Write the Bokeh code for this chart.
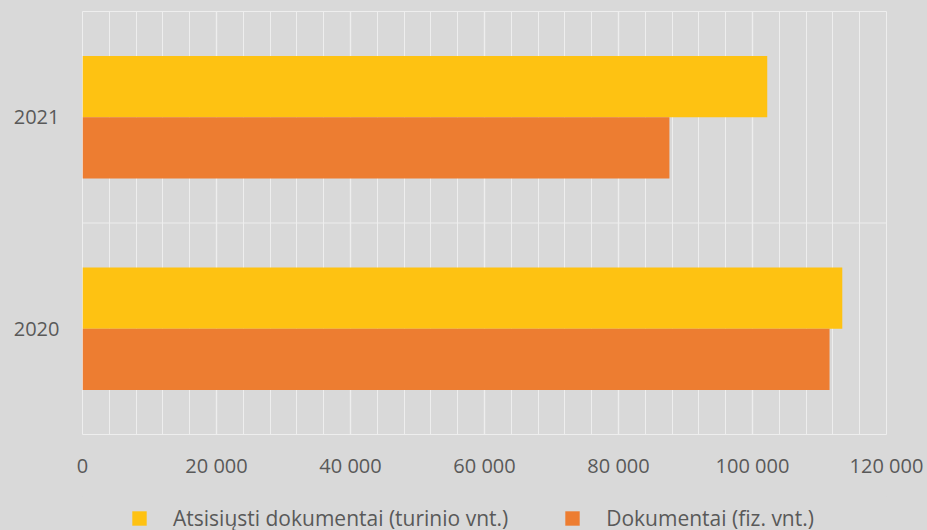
from bokeh.plotting import figure
from bokeh.models import (Range1d, FactorRange, SingleIntervalTicker, Span, Legend,
                          LegendItem, ColumnDataSource)
from bokeh.layouts import column
from bokeh.transform import dodge
from bokeh.embed import file_html
from bokeh.resources import INLINE

years = ["2020", "2021"]
downloaded = [113400, 102200]
documents = [111500, 87600]
x_ticks = [0, 20000, 40000, 60000, 80000, 100000, 120000]
x_tick_labels = ["0", "20 000", "40 000", "60 000", "80 000", "100 000", "120 000"]
series_names = ["Atsisiųsti dokumentai (turinio vnt.)", "Dokumentai (fiz. vnt.)"]
colors = ["#FEC212", "#ED7D31"]

BG = "#D9D9D9"
GRID = "#EEEEEE"
TXT = "#595959"
FONT = "Open Sans"

src = ColumnDataSource(dict(year=years, downloaded=downloaded, documents=documents))

p = figure(width=927, height=496, output_backend="svg", toolbar_location=None,
           y_range=FactorRange(*years), x_range=Range1d(x_ticks[0], x_ticks[-1]),
           min_border_left=82, min_border_right=41, min_border_top=11, min_border_bottom=62,
           background_fill_color=BG, border_fill_color=BG)

p.outline_line_color = GRID
p.outline_line_width = 1

r1 = p.hbar(y=dodge("year", 0.145, range=p.y_range), right="downloaded", left=0,
            height=0.29, source=src, fill_color=colors[0], line_color=None)
r2 = p.hbar(y=dodge("year", -0.145, range=p.y_range), right="documents", left=0,
            height=0.29, source=src, fill_color=colors[1], line_color=None)

ticker = SingleIntervalTicker(interval=20000, num_minor_ticks=5)
p.xaxis.ticker = ticker
p.xaxis.major_label_overrides = {t: l for t, l in zip(x_ticks, x_tick_labels)}
p.xgrid.ticker = ticker
p.xgrid.grid_line_color = GRID
p.xgrid.grid_line_width = 1.4
p.xgrid.minor_grid_line_color = GRID
p.xgrid.minor_grid_line_width = 1
p.ygrid.visible = False

p.add_layout(Span(location=1, dimension="width", line_color=GRID, line_width=1.2))

for ax in (p.xaxis[0], p.yaxis[0]):
    ax.axis_line_color = None
    ax.major_tick_line_color = None
    ax.minor_tick_line_color = None
    ax.major_tick_out = 0
    ax.major_tick_in = 0
    ax.minor_tick_out = 0
    ax.minor_tick_in = 0
    ax.major_label_text_font = FONT
    ax.major_label_text_font_size = "20px"
    ax.major_label_text_color = TXT
p.xaxis.major_label_standoff = 17
p.yaxis.major_label_standoff = 23

# legend strip below the chart (its frame is aligned with the chart's frame)
lf = figure(width=927, height=34, output_backend="svg", toolbar_location=None,
            x_axis_type=None, y_axis_type=None, x_range=Range1d(0, 1),
            y_range=FactorRange(*years),
            min_border=0, background_fill_alpha=0, border_fill_color=BG,
            outline_line_color=None)
lf.grid.visible = False
l1 = lf.hbar(y="year", right="downloaded", height=0.29, source=src,
             fill_color=colors[0], line_color=None, visible=False)
l2 = lf.hbar(y="year", right="documents", height=0.29, source=src,
             fill_color=colors[1], line_color=None, visible=False)

legend = Legend(items=[LegendItem(label=series_names[0], renderers=[l1]),
                       LegendItem(label=series_names[1], renderers=[l2])],
                orientation="horizontal", location=(48, -2),
                glyph_width=18, glyph_height=18, label_standoff=25, spacing=55,
                padding=0, margin=0, border_line_color=None,
                background_fill_alpha=0, inactive_fill_alpha=0,
                label_text_font=FONT,
                label_text_font_size="21px", label_text_color=TXT)
lf.add_layout(legend)

layout = column(p, lf, spacing=0, styles={"background-color": BG})
open("out.html", "w").write(file_html(layout, INLINE))
